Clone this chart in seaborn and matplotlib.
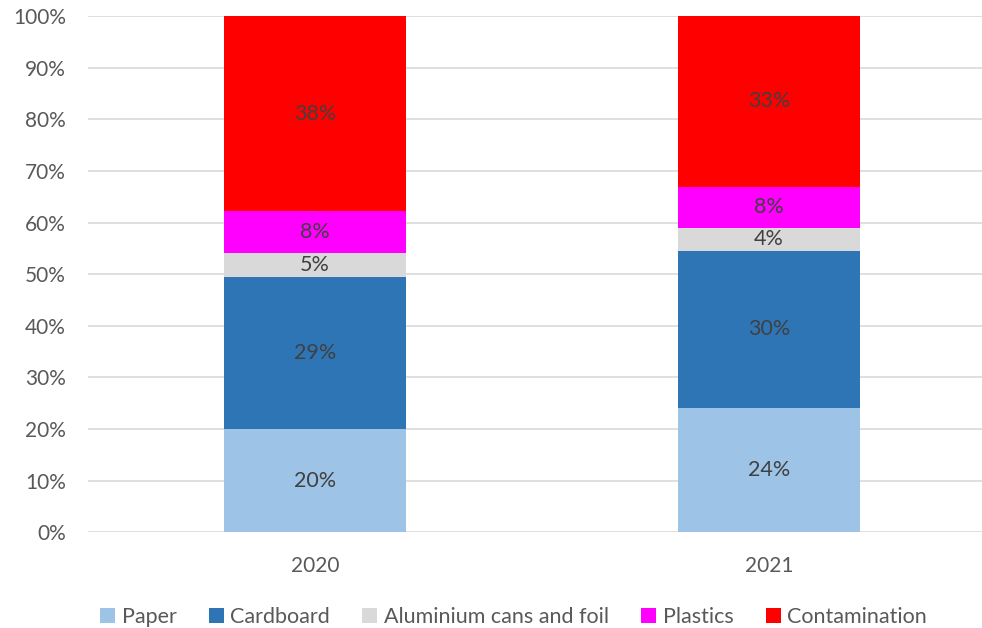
import numpy as np
import pandas as pd
import matplotlib
matplotlib.use("Agg")
import matplotlib.pyplot as plt
import seaborn as sns

# values (percent of bin contents)
years = ["2020", "2021"]
categories = ["Paper", "Cardboard", "Aluminium cans and foil", "Plastics", "Contamination"]
paper = [19.95, 24.1]
cardboard = [29.45, 30.4]
aluminium = [4.65, 4.45]
plastics = [8.15, 7.95]
contamination = [37.8, 33.1]
colors = ["#9DC3E6", "#2E75B6", "#D9D9D9", "#FF00FF", "#FF0000"]

series = [paper, cardboard, aluminium, plastics, contamination]

sns.set_style("white")
plt.rcParams["font.family"] = ["Lato", "DejaVu Sans"]

fig = plt.figure(figsize=(9.82, 6.28), dpi=100)
ax = fig.add_axes([88 / 982, 95.7 / 628, 908 / 982, 516.3 / 628])

bottom = np.zeros(len(years))
for name, vals, col in zip(categories, series, colors):
    df = pd.DataFrame({"year": years, "pct": vals})
    sns.barplot(data=df, x="year", y="pct", color=col, bottom=bottom,
                width=0.4, ax=ax, label=name, saturation=1, linewidth=0, zorder=3)
    bottom = bottom + np.array(vals)

for cont in ax.containers:
    ax.bar_label(cont, labels=[f"{v:.0f}%" for v in cont.datavalues],
                 label_type="center", color="#404040", fontsize=15.5)

ax.set_xlim(-0.5, 1.5)
ax.set_ylim(0, 100)
ax.set_yticks(range(0, 101, 10))
ax.set_yticklabels([f"{t}%" for t in range(0, 101, 10)])
ax.yaxis.grid(True, color="#D9D9D9", linewidth=1.2, zorder=0)
ax.set_axisbelow(True)
for s in ax.spines.values():
    s.set_visible(False)
ax.tick_params(axis="both", length=0, labelsize=15, colors="#595959")
ax.tick_params(axis="y", pad=16)
ax.tick_params(axis="x", pad=17)
ax.set_xlabel("")
ax.set_ylabel("")

handles, labels = ax.get_legend_handles_labels()
if ax.get_legend():
    ax.get_legend().remove()
fig.legend(handles, labels, loc="lower center", ncol=5, bbox_to_anchor=(0.523, -0.03),
           frameon=False, fontsize=15.5, handlelength=0.7, handleheight=0.7,
           handletextpad=0.3, columnspacing=1.5, labelcolor="#595959")

fig.savefig("out.png", dpi=100)
